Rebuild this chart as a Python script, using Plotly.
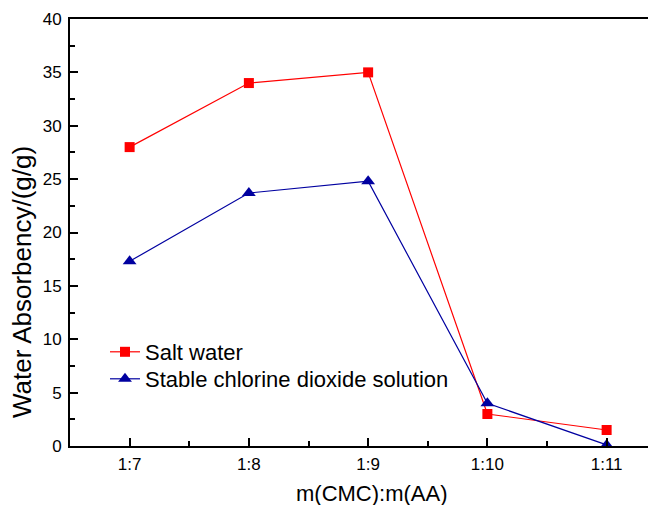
import plotly.graph_objects as go

categories = ["1:7", "1:8", "1:9", "1:10", "1:11"]
salt_water = [28.0, 34.0, 35.0, 3.0, 1.5]
chlorine_dioxide = [17.3, 23.7, 24.8, 4.0, 0.1]
y_ticks = [0, 5, 10, 15, 20, 25, 30, 35, 40]

xpos = list(range(len(categories)))

fig = go.Figure()
fig.add_trace(go.Scatter(
    x=xpos, y=salt_water, mode="lines+markers", name="Salt water",
    line=dict(color="#FF0000", width=1.2),
    marker=dict(symbol="square", size=10, color="#FF0000"),
    legend="legend",
))
fig.add_trace(go.Scatter(
    x=xpos, y=chlorine_dioxide, mode="lines+markers", name="Stable chlorine dioxide solution",
    line=dict(color="#0000A0", width=1.2),
    marker=dict(symbol="triangle-up", size=12, color="#0000A0"),
    legend="legend2",
))

font_family = "Liberation Sans, Arial, sans-serif"
# page body has an 8px default margin; the figure is offset by it
OFF = 8
W, H = 656 - OFF, 505 - OFF
L, R, T, B = 70 - OFF, 0, 19 - OFF, 505 - 446
pw, ph = W - L - R, H - T - B

def px_to_paper_x(px):
    return (px - OFF - L) / pw

def px_to_paper_y(py):
    return (H - B - (py - OFF)) / ph

legend_common = dict(
    xanchor="left", yanchor="middle",
    bgcolor="rgba(0,0,0,0)", borderwidth=0,
    font=dict(size=22, family=font_family, color="black"),
    itemclick=False, itemdoubleclick=False,
)

fig.update_layout(
    width=W, height=H,
    margin=dict(l=L, r=R, t=T, b=B, autoexpand=False),
    plot_bgcolor="white", paper_bgcolor="white",
    font=dict(family=font_family, color="black"),
    showlegend=True,
    legend=dict(x=px_to_paper_x(105), y=px_to_paper_y(352), **legend_common),
    legend2=dict(x=px_to_paper_x(105), y=px_to_paper_y(379), **legend_common),
    xaxis=dict(
        range=[-0.5, 4.414],
        tickmode="array", tickvals=xpos, ticktext=categories,
        ticks="inside", ticklen=8, tickwidth=2, tickcolor="black",
        minor=dict(dtick=0.5, tick0=0.5, ticks="inside", ticklen=5, tickwidth=2, tickcolor="black"),
        showline=True, linecolor="black", linewidth=2, mirror=True,
        showgrid=False, zeroline=False,
        tickfont=dict(size=17),
        ticklabelstandoff=2,
        automargin=False,
    ),
    yaxis=dict(
        range=[0, 40],
        tickmode="array", tickvals=y_ticks,
        ticks="inside", ticklen=8, tickwidth=2, tickcolor="black",
        minor=dict(dtick=2.5, tick0=0, ticks="inside", ticklen=5, tickwidth=2, tickcolor="black"),
        showline=True, linecolor="black", linewidth=2, mirror=False,
        showgrid=False, zeroline=False,
        tickfont=dict(size=17),
        ticklabelstandoff=3,
        automargin=False,
    ),
    annotations=[
        dict(text="m(CMC):m(AA)", xref="paper", yref="paper",
             x=px_to_paper_x(372), y=px_to_paper_y(494),
             xanchor="center", yanchor="middle", showarrow=False,
             font=dict(size=22, family=font_family, color="black")),
        dict(text="Water Absorbency/(g/g)", xref="paper", yref="paper",
             x=px_to_paper_x(22), y=px_to_paper_y(282),
             xanchor="center", yanchor="middle", showarrow=False, textangle=-90,
             font=dict(size=26, family=font_family, color="black")),
    ],
)

fig.write_html("out.html")
